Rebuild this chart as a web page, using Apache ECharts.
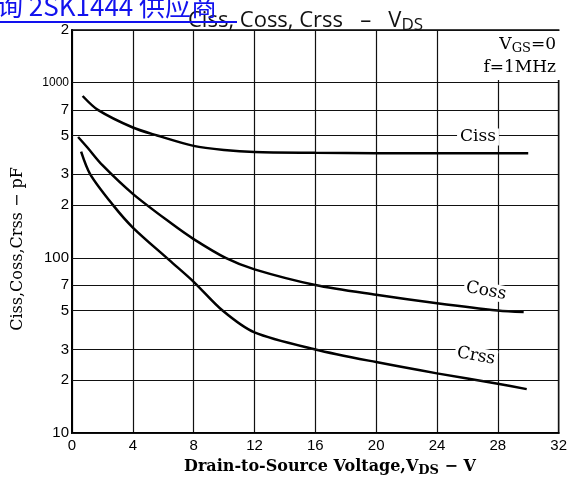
<!DOCTYPE html>
<html>
<head>
<meta charset="utf-8">
<script src="https://cdn.jsdelivr.net/npm/echarts@6/dist/echarts.min.js"></script>
<style>html,body{margin:0;padding:0;background:#fff}#chart{width:570px;height:486px}</style>
</head>
<body>
<div id="chart"></div>
<script>
// curves (V, pF)
const cissV=[0.7,1.7,4,5.6,8,10,12,16,20,30]
const cissC=[840,700,555,500,436,413,402,398,396,395]
const cossV=[0.4,1,2,4,6.5,8,10.1,12,16,20,24,28,29.7]
const cossC=[490,428,338,232,158,128,100,86,70,61.5,55,50,49]
const crssV=[0.6,1.2,2.7,4,6.4,8,9.9,12,16,20,24,28,29.9]
const crssC=[404,300,200,149,97,73,50,37.5,30,25.4,21.9,19.1,17.8]
const yTicks=[10,20,30,50,70,100,200,300,500,700,1000,2000]
const yTickLabels=['10','2','3','5','7','100','2','3','5','7','1000','2']

const zip=(a,b)=>a.map((v,i)=>[v,b[i]])
const serif='"DejaVu Serif", serif'
const sans='"Liberation Sans", Arial, sans-serif'

const myChart=echarts.init(document.querySelector('#chart'))
const curve={type:'line',smooth:0.3,showSymbol:false,silent:true,
  lineStyle:{color:'#000',width:2.5}}

const option={
  animation:false,
  title:{
    text:'{a|Ciss, Coss, Crss   –   V}{s|DS}',
    left:183,top:2,
    textStyle:{fontWeight:'normal',rich:{
      a:{fontFamily:'"Open Sans", sans-serif',fontWeight:'normal',fontSize:22,color:'#111'},
      s:{fontFamily:'"Open Sans", sans-serif',fontWeight:'normal',fontSize:17,color:'#111',padding:[10,0,0,0]}
    }}
  },
  grid:{left:72,right:7,top:30,bottom:53,show:true,borderColor:'#000',borderWidth:1.5},
  xAxis:{
    type:'value',min:0,max:32,interval:4,
    axisLine:{lineStyle:{color:'#000',width:2}},
    axisTick:{show:false},
    splitLine:{lineStyle:{color:'#111',width:1.2}},
    axisLabel:{color:'#000',fontFamily:sans,fontSize:15,margin:5}
  },
  yAxis:{
    type:'log',logBase:10,min:10,max:2000,
    axisLine:{show:true,lineStyle:{color:'#000',width:2}},
    axisTick:{show:false},
    axisLabel:{show:false},
    splitLine:{show:false}
  },
  series:[
    {...curve,name:'Ciss',data:zip(cissV,cissC),
      markLine:{silent:true,symbol:'none',animation:false,
        lineStyle:{color:'#111',width:1.2,type:'solid'},
        label:{position:'start',distance:3,color:'#000',fontFamily:sans,fontSize:15,
          formatter:p=>yTickLabels[yTicks.indexOf(p.value)]},
        data:yTicks.map(v=>({yAxis:v,label:v===1000?{fontSize:12}:undefined}))}},
    {...curve,name:'Coss',data:zip(cossV,cossC)},
    {...curve,name:'Crss',data:zip(crssV,crssC)}
  ],
  graphic:[
    {type:'text',left:-3,top:-7,z:10,style:{text:'询 2SK1444 供应商',
      font:'26px "Noto Sans CJK SC", sans-serif',fill:'#1212ee'}},
    {type:'rect',shape:{x:0,y:21,width:237,height:2},z:10,style:{fill:'#1212ee'}},
    {type:'rect',shape:{x:468,y:31,width:93,height:49},z:5,style:{fill:'#fff'}},
    {type:'text',x:556,y:45,z:6,style:{
      text:'{a|V}{s|GS}{a|=0}',align:'right',verticalAlign:'middle',
      rich:{a:{fontFamily:serif,fontSize:17,fill:'#000'},s:{fontFamily:serif,fontSize:13,fill:'#000',padding:[8,0,0,0]}}}},
    {type:'text',x:556,y:68,z:6,style:{text:'f=1MHz',align:'right',verticalAlign:'middle',
      font:'17px '+serif,fill:'#000'}},
    {type:'text',x:478,y:137,z:6,style:{text:'Ciss',align:'center',verticalAlign:'middle',
      font:'17px '+serif,fill:'#000',backgroundColor:'#fff',padding:[0,3]}},
    {type:'text',x:486,y:291,rotation:-0.18,z:6,style:{text:'Coss',align:'center',verticalAlign:'middle',
      font:'17px '+serif,fill:'#000',backgroundColor:'#fff',padding:[0,2]}},
    {type:'text',x:476,y:356,rotation:-0.18,z:6,style:{text:'Crss',align:'center',verticalAlign:'middle',
      font:'17px '+serif,fill:'#000',backgroundColor:'#fff',padding:[0,2]}},
    {type:'text',x:18,y:249,rotation:Math.PI/2,style:{text:'Ciss,Coss,Crss − pF',align:'center',verticalAlign:'middle',
      font:'16px '+serif,fill:'#000'}},
    {type:'text',x:330,y:467,style:{text:'{a|Drain-to-Source Voltage,V}{s|DS}{a| − V}',align:'center',verticalAlign:'middle',
      rich:{a:{fontFamily:serif,fontWeight:'bold',fontSize:16,fill:'#000'},
        s:{fontFamily:serif,fontWeight:'bold',fontSize:13,fill:'#000',padding:[8,0,0,0]}}}}
  ]
}
myChart.setOption(option)
</script>
</body>
</html>
